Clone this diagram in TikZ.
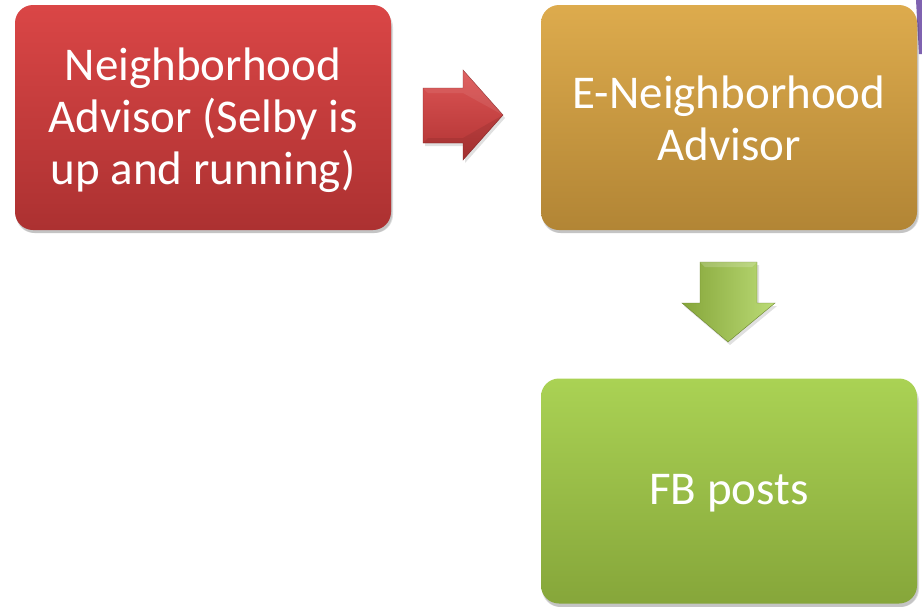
\documentclass[tikz,border=0pt]{standalone}
\usepackage{fontspec}
\setmainfont{Carlito}
\definecolor{redtop}{HTML}{DA4646}
\definecolor{redbot}{HTML}{AC3131}
\definecolor{ortop}{HTML}{DDAB4D}
\definecolor{orbot}{HTML}{B28535}
\definecolor{grtop}{HTML}{AAD254}
\definecolor{grbot}{HTML}{86A63A}
\definecolor{purp}{HTML}{7F62B0}
\tikzset{
  box/.style={rounded corners=18pt, minimum width=376pt, minimum height=225pt,
    inner sep=0pt},
  boxtext/.style={inner sep=0pt, text=white, align=center, font=\fontsize{47}{52}\selectfont},
  shadowbox/.style={rounded corners=18pt, fill=black, fill opacity=0.12},
}
\begin{document}
\begin{tikzpicture}[x=1pt,y=-1pt]
\useasboundingbox (0,0) rectangle (922,606);
\fill[white] (0,0) rectangle (922,606);
% purple sliver at top right
\fill[purp] (916,0) -- (922,0) -- (922,54) -- (919,54) -- cycle;
% shadows
\foreach \bx/\by in {15/5, 541/5, 541/379}{
  \fill[shadowbox] (\bx+1,\by+4) rectangle ++(377,224);
  \fill[shadowbox] (\bx+2,\by+6) rectangle ++(375,222);
}
% boxes
\node[box, top color=redtop, bottom color=redbot] (na) at (203,117.5) {};
\node[boxtext] (natext) at ([yshift=-3pt]na.center)
  {Neighborhood\\Advisor (Selby is\\up and running)};
\node[box, top color=ortop, bottom color=orbot] (ena) at (729,117.5) {};
\node[boxtext] (enatext) at ([yshift=-1pt]ena.center)
  {E-Neighborhood\\Advisor};
\node[box, top color=grtop, bottom color=grbot] (fb) at (729,491) {};
\node[boxtext] (fbtext) at ([yshift=-2pt]fb.center) {FB posts};
% right arrow
\fill[black, fill opacity=0.12] (425,91) -- (465,91) -- (465,73) -- (505,118) -- (465,163) -- (465,146) -- (425,146) -- cycle;
\path[top color=redtop!92!white, bottom color=redbot!90!redtop, draw=redbot!80!black, line width=0.4pt]
  (423,88) -- (463,88) -- (463,70) -- (503,115) -- (463,160) -- (463,143) -- (423,143) -- cycle;
\fill[white, opacity=0.08] (423,88) -- (463,88) -- (463,70) -- (503,115) -- (463,93) -- (428,93) -- cycle;
\fill[black, opacity=0.08] (423,143) -- (463,143) -- (463,160) -- (503,115) -- (463,138) -- (428,138) -- cycle;
% down arrow
\fill[black, fill opacity=0.12] (702,265) -- (759,265) -- (759,306) -- (777,306) -- (730,345) -- (684,306) -- (702,306) -- cycle;
\path[left color=grbot, right color=grtop!80!white, draw=grbot!80!black, line width=0.4pt]
  (700,262) -- (757,262) -- (757,303) -- (775,303) -- (728,342) -- (682,303) -- (700,303) -- cycle;
\fill[white, opacity=0.18] (700,262) -- (757,262) -- (752,267) -- (705,267) -- cycle;
\end{tikzpicture}
\end{document}
